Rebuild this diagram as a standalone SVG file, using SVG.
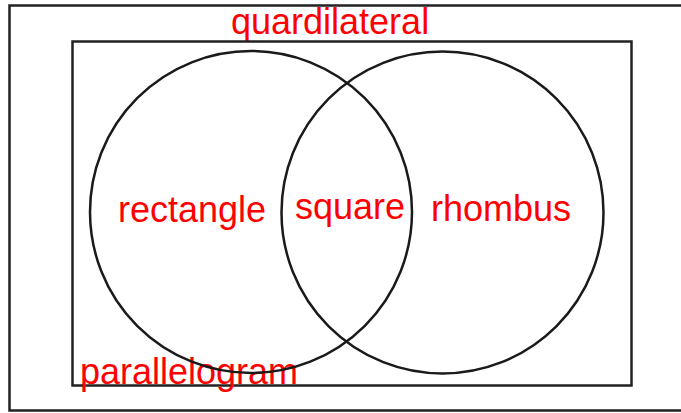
<svg xmlns="http://www.w3.org/2000/svg" width="681" height="413" viewBox="0 0 681 413">
<style>
.box{fill:none;stroke:#222;stroke-width:2.5}
.c{fill:none;stroke:#1a1a1a;stroke-width:2.5}
.t{font-family:"Liberation Sans",Arial,sans-serif;font-size:36px;fill:#ff0000}
</style>
<rect width="681" height="413" fill="#fff"/>
<g id="quadrilateral">
<rect class="box" x="9.5" y="5.5" width="680" height="405"/>
<text class="t" x="231" y="34">quardilateral</text>
</g>
<g id="parallelogram">
<rect class="box" x="72.5" y="41.5" width="559" height="344"/>
<text class="t" x="80" y="384">parallelogram</text>
</g>
<g id="rectangle">
<circle class="c" cx="251" cy="212" r="161"/>
<text class="t" x="118" y="222">rectangle</text>
</g>
<g id="rhombus">
<circle class="c" cx="442.5" cy="212.5" r="161"/>
<text class="t" x="431" y="221">rhombus</text>
</g>
<g id="square">
<text class="t" x="295" y="219">square</text>
</g>
<g id="connectors"></g>
</svg>
